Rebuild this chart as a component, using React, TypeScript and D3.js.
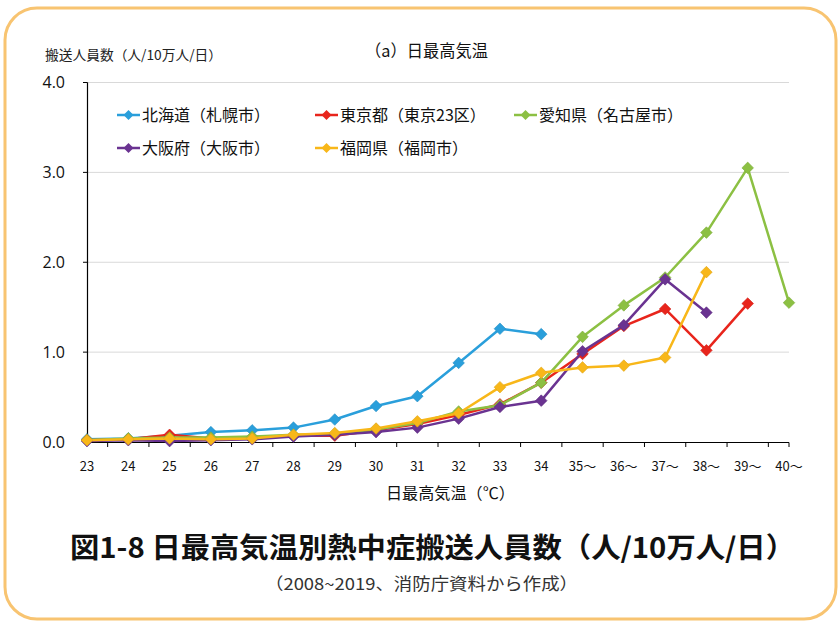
import React from "react";
import * as d3 from "d3";

const categories = ["23","24","25","26","27","28","29","30","31","32","33","34","35～","36～","37～","38～","39～","40～"];
const seriesNames = ["北海道（札幌市）","東京都（東京23区）","愛知県（名古屋市）","大阪府（大阪市）","福岡県（福岡市）"];
const hokkaido = [0.03,0.04,0.07,0.11,0.13,0.16,0.25,0.40,0.51,0.88,1.26,1.20,null,null,null,null,null,null];
const tokyo = [0.02,0.03,0.08,0.04,0.05,0.07,0.07,0.13,0.20,0.30,0.42,0.66,0.98,1.29,1.48,1.02,1.54,null];
const aichi = [0.02,0.04,0.05,0.05,0.06,0.08,0.09,0.14,0.21,0.34,0.41,0.66,1.17,1.52,1.83,2.33,3.05,1.55];
const osaka = [0.01,0.02,0.01,0.02,0.03,0.06,0.08,0.11,0.16,0.26,0.39,0.46,1.01,1.30,1.81,1.44,null,null];
const fukuoka = [0.02,0.03,0.04,0.03,0.04,0.08,0.10,0.15,0.23,0.32,0.61,0.77,0.83,0.85,0.94,1.89,null,null];
const yTicks = [0, 1, 2, 3, 4];

const colors = ["#2a9fdb", "#e8251c", "#8cc043", "#6a3391", "#f8b719"];
const seriesValues = [hokkaido, tokyo, aichi, osaka, fukuoka];

const FONT = '"Noto Sans CJK JP", "Noto Sans", sans-serif';

const diamond = (r: number) => `M0,${-r}L${r},0L0,${r}L${-r},0Z`;

export default function App() {
  const W = 838, H = 621;
  const x = d3.scalePoint<string>().domain(categories).range([87, 789]);
  const y = d3.scaleLinear().domain([0, 4]).range([442, 82.5]);
  const step = x.step();
  const line = d3.line<[string, number | null]>()
    .defined(d => d[1] !== null)
    .x(d => x(d[0]) as number)
    .y(d => y(d[1] as number));

  const legendPos = [
    { lx: 117, ly: 115 },
    { lx: 315, ly: 115 },
    { lx: 514, ly: 115 },
    { lx: 117, ly: 148 },
    { lx: 315, ly: 148 },
  ];

  return (
    <svg width={W} height={H} style={{ position: "absolute", left: 0, top: 0, background: "#fff" }} fontFamily={FONT}>
      <rect x={5} y={8} width={831} height={611} rx={32} ry={32} fill="#fff" stroke="#f8c471" strokeWidth={3} />
      {/* gridlines */}
      {yTicks.filter(t => t > 0).map(t => (
        <line key={t} x1={87} x2={789} y1={y(t)} y2={y(t)} stroke="#d9d9d9" strokeWidth={1} />
      ))}
      {/* y axis */}
      <line x1={87.5} x2={87.5} y1={y(4)} y2={446} stroke="#000" strokeWidth={1.2} />
      {yTicks.map(t => (
        <g key={t}>
          <line x1={83} x2={87.5} y1={y(t)} y2={y(t)} stroke="#000" strokeWidth={1} />
          <text x={65} y={y(t)} dy="0.35em" textAnchor="end" fontSize={16} fill="#111" fontFamily='"Open Sans", "Noto Sans", sans-serif'>{t.toFixed(1)}</text>
        </g>
      ))}
      {/* x axis */}
      <line x1={87} x2={789} y1={442.5} y2={442.5} stroke="#000" strokeWidth={1.2} />
      {categories.map((c, i) => {
        const tx = i < categories.length - 1 ? (x(c) as number) + step / 2 : (x(c) as number);
        return <line key={"t" + c} x1={tx} x2={tx} y1={442.5} y2={447} stroke="#000" strokeWidth={1} />;
      })}
      {categories.map(c => (
        <text key={"l" + c} x={x(c) as number} y={466} dy="0.35em" textAnchor="middle" fontSize={13} fill="#111">{c}</text>
      ))}
      {/* series */}
      {seriesValues.map((vals, si) => {
        const pts = categories.map((c, i) => [c, vals[i]] as [string, number | null]);
        return (
          <g key={si}>
            <path d={line(pts) || ""} fill="none" stroke={colors[si]} strokeWidth={2.5} strokeLinejoin="round" />
            {pts.filter(p => p[1] !== null).map(p => (
              <path key={p[0]} d={diamond(5.8)} transform={`translate(${x(p[0])},${y(p[1] as number)})`} fill={colors[si]} stroke={d3.color(colors[si])!.darker(0.3).toString()} strokeWidth={0.6} />
            ))}
          </g>
        );
      })}
      {/* legend */}
      {seriesNames.map((n, i) => (
        <g key={n} transform={`translate(${legendPos[i].lx},${legendPos[i].ly})`}>
          <line x1={0} x2={23} y1={0} y2={0} stroke={colors[i]} strokeWidth={2.5} />
          <path d={diamond(5)} transform="translate(11.5,0)" fill={colors[i]} />
          <text x={25} y={0} dy="0.36em" fontSize={16} fill="#111">{n}</text>
        </g>
      ))}
      {/* titles */}
      <text x={45} y={55} dy="0.35em" fontSize={13.5} fill="#222" textLength={177} lengthAdjust="spacingAndGlyphs">搬送人員数（人/10万人/日）</text>
      <text x={365} y={51} dy="0.35em" fontSize={16.5} fill="#111" textLength={123} lengthAdjust="spacingAndGlyphs">（a）日最高気温</text>
      <text x={386} y={493} dy="0.35em" fontSize={16} fill="#111" textLength={129} lengthAdjust="spacingAndGlyphs">日最高気温（℃）</text>
      <text x={70} y={548} dy="0.35em" fontSize={28} fontWeight="bold" fill="#111" textLength={725} lengthAdjust="spacingAndGlyphs">図1-8 日最高気温別熱中症搬送人員数（人/10万人/日）</text>
      <text x={265} y={584} dy="0.35em" fontSize={16.5} fill="#333" textLength={313} lengthAdjust="spacingAndGlyphs">（2008~2019、消防庁資料から作成）</text>
    </svg>
  );
}
